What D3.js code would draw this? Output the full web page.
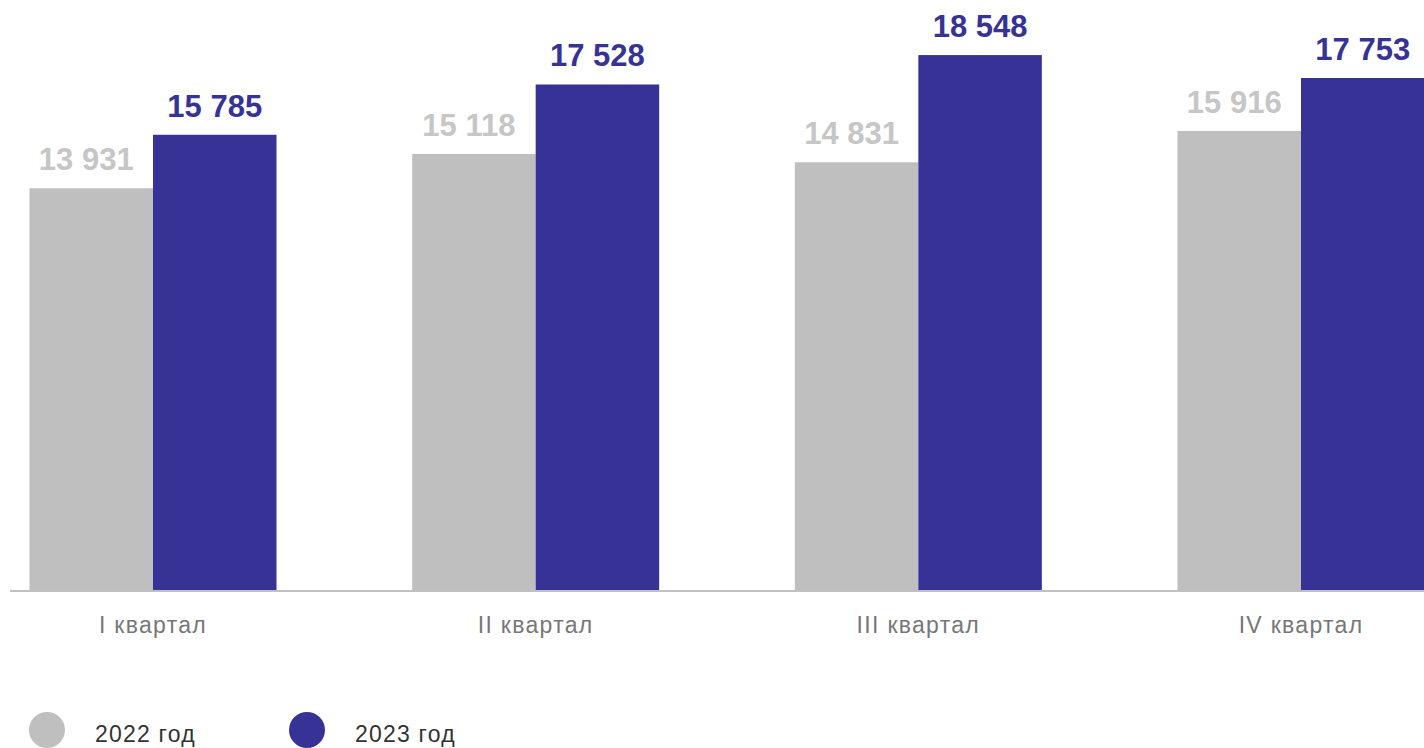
<!DOCTYPE html>
<html>
<head>
<meta charset="utf-8">
<script src="https://cdn.jsdelivr.net/npm/d3@7"></script>
<style>
  body { margin: 0; background: #fff; }
  svg { display: block; font-family: "Liberation Sans", Arial, sans-serif; }
</style>
</head>
<body>
<svg width="1424" height="748"></svg>
<script>
var categories = ["I квартал", "II квартал", "III квартал", "IV квартал"];
var seriesNames = ["2022 год", "2023 год"];
var values2022 = [13931, 15118, 14831, 15916];
var values2023 = [15785, 17528, 18548, 17753];
var colors = ["#bfbfbf", "#373295"];
var labelColors = ["#c6c6c6", "#373295"];

var svg = d3.select("svg");
var fmt = function (v) { return d3.format(",")(v).replace(/,/g, " "); };

var step = 382.67;
var x = d3.scaleBand().domain(categories)
    .range([153 - step / 2, 1301 + step / 2])
    .paddingInner(0.3545).paddingOuter(0.3545 / 2);
var xs = d3.scaleBand().domain(seriesNames).range([0, x.bandwidth()]);
var y = d3.scaleLinear().domain([0, 20000]).range([590, 13.2]);

var rows = categories.map(function (c, i) {
    return { cat: c, vals: [values2022[i], values2023[i]] };
});

var groups = svg.selectAll("g.grp").data(rows).enter().append("g")
    .attr("class", "grp")
    .attr("transform", function (d) { return "translate(" + x(d.cat) + ",0)"; });

groups.selectAll("rect").data(function (d) {
    return d.vals.map(function (v, j) { return { s: seriesNames[j], v: v, j: j }; });
}).enter().append("rect")
    .attr("x", function (d) { return xs(d.s); })
    .attr("width", xs.bandwidth())
    .attr("y", function (d) { return y(d.v); })
    .attr("height", function (d) { return y(0) - y(d.v); })
    .style("fill", function (d) { return colors[d.j]; });

groups.selectAll("text.val").data(function (d) {
    return d.vals.map(function (v, j) { return { s: seriesNames[j], v: v, j: j }; });
}).enter().append("text")
    .attr("class", "val")
    .attr("x", function (d) { return xs(d.s) + xs.bandwidth() / 2 + (d.j === 0 ? -5 : 0); })
    .attr("y", function (d) { return y(d.v) - 18; })
    .attr("text-anchor", "middle")
    .style("font-size", "31px")
    .style("font-weight", "bold")
    .style("fill", function (d) { return labelColors[d.j]; })
    .text(function (d) { return fmt(d.v); });

// baseline
svg.append("line")
    .attr("x1", 10).attr("x2", 1424)
    .attr("y1", y(0) + 1).attr("y2", y(0) + 1)
    .style("stroke", "#c0c0c0")
    .style("stroke-width", "2px");

// category labels
var xAxis = d3.axisBottom(x).tickSize(0).tickPadding(0);
var ax = svg.append("g").attr("transform", "translate(0,633)").call(xAxis);
ax.select(".domain").remove();
ax.selectAll("text")
    .attr("y", 0)
    .attr("dy", 0)
    .style("font-family", "'Liberation Sans', Arial, sans-serif")
    .style("font-size", "23px")
    .style("letter-spacing", "1.3px")
    .style("fill", "#777777");

// legend
var legendX = [47, 307];
var leg = svg.selectAll("g.leg").data(seriesNames).enter().append("g")
    .attr("class", "leg")
    .attr("transform", function (d, i) { return "translate(" + legendX[i] + ",730)"; });
leg.append("circle").attr("r", 18).style("fill", function (d, i) { return colors[i]; });
leg.append("text")
    .attr("x", 48).attr("y", 12)
    .style("font-family", "'Liberation Sans', Arial, sans-serif")
    .style("font-size", "23px")
    .style("letter-spacing", "1.2px")
    .style("fill", "#333")
    .text(function (d) { return d; });
</script>
</body>
</html>
